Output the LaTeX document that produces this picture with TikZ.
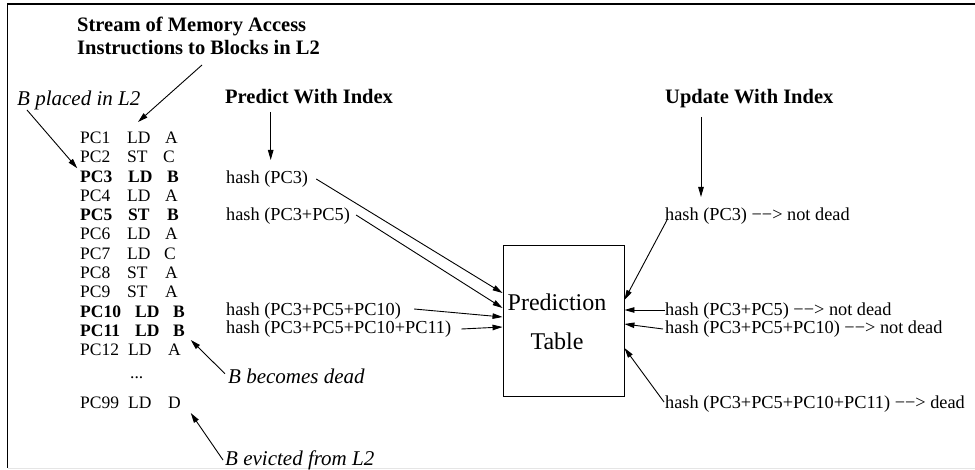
\documentclass[tikz,border=0pt]{standalone}
\usepackage{fontspec}
\setmainfont{Liberation Serif}
\usetikzlibrary{arrows.meta,calc}
\begin{document}
\begin{tikzpicture}[x=1pt,y=-1pt,
  lst/.style={anchor=base west, inner sep=0pt, font=\fontsize{17.5}{19}\selectfont},
  hsh/.style={anchor=base west, inner sep=0pt, font=\fontsize{18.3}{21}\selectfont},
  ttl/.style={anchor=base west, inner sep=0pt, font=\fontsize{20.5}{24}\selectfont\bfseries},
  note/.style={anchor=base west, inner sep=0pt, font=\fontsize{21}{24}\selectfont\itshape},
  tbl/.style={anchor=base, inner sep=0pt, font=\fontsize{24}{28}\selectfont},
  arr/.style={-{Triangle[length=10pt,width=5.5pt]}, line width=0.9pt},
  boxst/.style={draw, line width=0.9pt, inner sep=0pt, minimum width=121pt, minimum height=151pt}]
\useasboundingbox (0,0) rectangle (975,470);
% frame
\draw[line width=0.8pt, black!10] (7.5,468) -- (975,468);
\draw[line width=1.5pt] (975,4) -- (7.5,4) -- (7.5,468);

% titles
\node[ttl] (s1) at (77,31.5) {Stream of Memory Access};
\node[ttl] (s2) at (77,55) {Instructions to Blocks in L2};
\node[note] (bp) at (17,106) {B placed in L2};
\node[ttl] (pw) at (225,104) {Predict With Index};
\node[ttl] (uw) at (665,104) {Update With Index};

% instruction list
\foreach \i/\a/\b/\c/\xb/\xc/\y/\f in {
  1/PC1/LD/A/127/165/143.5/\mdseries,
  2/PC2/ST/C/127/163/162.8/\mdseries,
  3/PC3/LD/B/128/167/182.1/\bfseries,
  4/PC4/LD/A/127/165/201.4/\mdseries,
  5/PC5/ST/B/128/167/220.7/\bfseries,
  6/PC6/LD/A/127/165/240.0/\mdseries,
  7/PC7/LD/C/127/164/259.3/\mdseries,
  8/PC8/ST/A/127/165/278.6/\mdseries,
  9/PC9/ST/A/127/165/297.9/\mdseries,
  10/PC10/LD/B/135/173/317.2/\bfseries,
  11/PC11/LD/B/135/173/336.5/\bfseries,
  12/PC12/LD/A/128/168/355.8/\mdseries,
  99/PC99/LD/D/128/168/408.5/\mdseries}{
  \node[lst, font=\fontsize{17.5}{19}\selectfont\f] (c\i a) at (80,\y) {\a};
  \node[lst, font=\fontsize{17.5}{19}\selectfont\f] (c\i b) at (\xb,\y) {\b};
  \node[lst, font=\fontsize{17.5}{19}\selectfont\f] (c\i c) at (\xc,\y) {\c};
}
\node[lst] (dots) at (130,378) {...};

\node[note] (bd) at (228,384) {B becomes dead};
\node[note] (be) at (225,465) {B evicted from L2};

% hash (predict)
\node[hsh] (h1) at (226,183.5) {hash (PC3)};
\node[hsh] (h2) at (226,221) {hash (PC3+PC5)};
\node[hsh] (h3) at (226,316) {hash (PC3+PC5+PC10)};
\node[hsh] (h4) at (226,334) {hash (PC3+PC5+PC10+PC11)};

% hash (update)
\node[hsh] (r1) at (665,221) {hash (PC3) −−> not dead};
\node[hsh] (r2) at (665,316) {hash (PC3+PC5) −−> not dead};
\node[hsh] (r3) at (665,334) {hash (PC3+PC5+PC10) −−> not dead};
\node[hsh] (r4) at (665,409) {hash (PC3+PC5+PC10+PC11) −−> dead};

% prediction table
\node[boxst] (tab) at (563.5,320.5) {};
\node[tbl] (tl1) at (557,311) {Prediction};
\node[tbl] (tl2) at (557,350) {Table};

% annotation arrows
\draw[arr] ([xshift=125pt,yshift=-10pt]s2.base west) -- ([xshift=11pt,yshift=21.5pt]c1b.base west);
\draw[arr] ([xshift=10pt,yshift=-4pt]bp.base west) -- ([xshift=-2.7pt,yshift=13.8pt]c3a.base west);
\draw[arr] ([xshift=-3pt,yshift=10.3pt]bd.base west) -- ([xshift=5.7pt,yshift=-3.5pt]c11c.base east);
\draw[arr] ([xshift=-2pt,yshift=5pt]be.base west) -- ([xshift=9.7pt,yshift=-4.5pt]c99c.base east);

% predict arrows
\draw[arr] ([xshift=45.7pt,yshift=-8pt]pw.base west) -- ([xshift=44.7pt,yshift=23.5pt]h1.base west);
\draw[arr] ([xshift=8pt,yshift=4.5pt]h1.base east) -- ([yshift=27.5pt]tab.west);
\draw[arr] ([xshift=6pt,yshift=6pt]h2.base east) -- ([yshift=12.5pt]tab.west);
\draw[arr] ([xshift=13pt,yshift=7pt]h3.base east) -- ([yshift=3.5pt]tab.west);
\draw[arr] ([xshift=10pt,yshift=5pt]h4.base east) -- ([yshift=-6.5pt]tab.west);

% update arrows
\draw[arr] ([xshift=36pt,yshift=-13pt]uw.base west) -- ([xshift=36pt,yshift=24pt]r1.base west);
\draw[arr] ([xshift=2pt,yshift=1pt]r1.base west) -- ([yshift=20.5pt]tab.east);
\draw[arr] ([yshift=6pt]r2.base west) -- ([yshift=10.5pt]tab.east);
\draw[arr] ([xshift=-2pt,yshift=5pt]r3.base west) -- ([yshift=-3.5pt]tab.east);
\draw[arr] ([xshift=-1pt,yshift=7pt]r4.base west) -- ([yshift=-27.5pt]tab.east);
\end{tikzpicture}
\end{document}
